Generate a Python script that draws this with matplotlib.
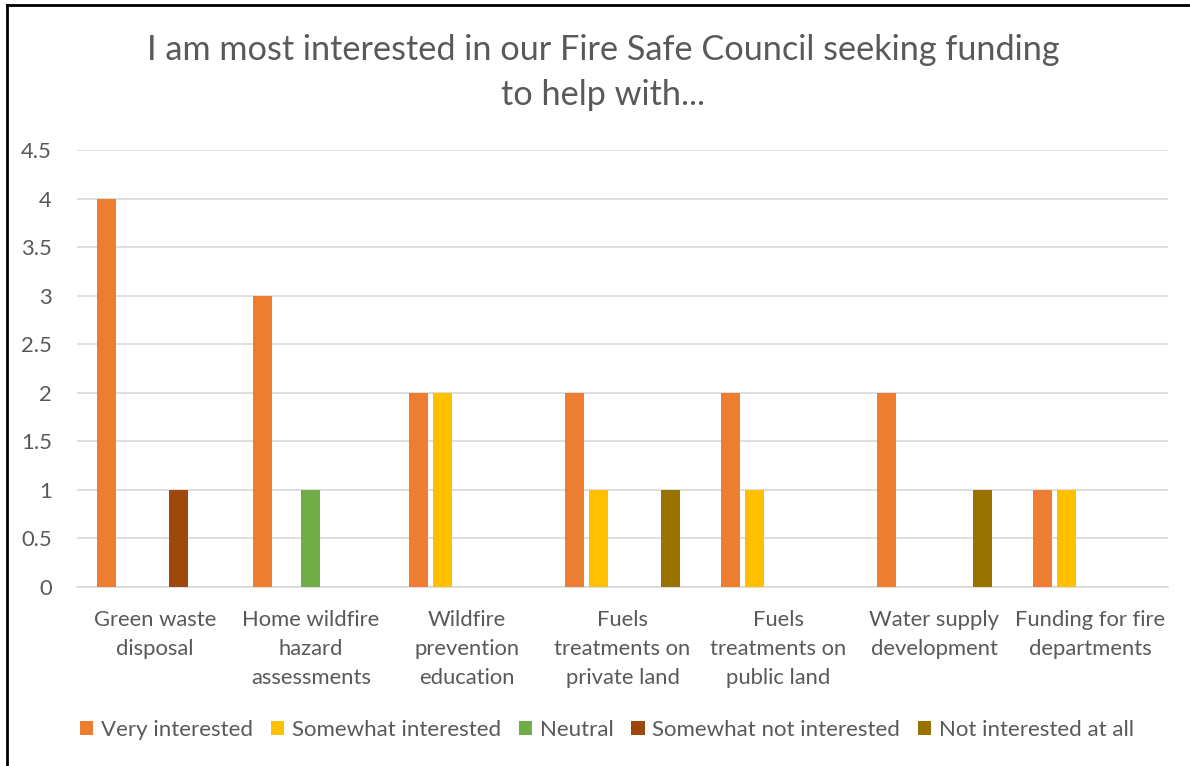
import numpy as np
import matplotlib
matplotlib.use("Agg")
import matplotlib.pyplot as plt
from matplotlib.lines import Line2D

categories = ["Green waste\ndisposal", "Home wildfire\nhazard\nassessments",
              "Wildfire\nprevention\neducation", "Fuels\ntreatments on\nprivate land",
              "Fuels\ntreatments on\npublic land", "Water supply\ndevelopment",
              "Funding for fire\ndepartments"]
series = ["Very interested", "Somewhat interested", "Neutral",
          "Somewhat not interested", "Not interested at all"]
very = [4, 3, 2, 2, 2, 2, 1]
somewhat = [0, 0, 2, 1, 1, 0, 1]
neutral = [0, 1, 0, 0, 0, 0, 0]
somewhat_not = [1, 0, 0, 0, 0, 0, 0]
not_at_all = [0, 0, 0, 1, 0, 1, 0]
colors = ["#ED7D31", "#FFC000", "#70AD47", "#9E480E", "#997300"]

plt.rcParams["font.family"] = ["Lato", "DejaVu Sans"]
gray = "#595959"

fig = plt.figure(figsize=(11.9, 7.66), dpi=100)
ax = fig.add_axes([77/1190, 1-587/766, (1168-77)/1190, (587-150)/766])

x = np.arange(len(categories))
step = 0.154
width = 0.122
for i, (vals, name, c) in enumerate(zip([very, somewhat, neutral, somewhat_not, not_at_all], series, colors)):
    ax.bar(x + (i-2)*step, vals, width, color=c, label=name, zorder=3)

ax.set_xlim(-0.5, len(categories)-0.5)
ax.set_ylim(0, 4.5)
ax.set_yticks(np.arange(0, 4.51, 0.5))
ax.set_yticklabels(["0", "0.5", "1", "1.5", "2", "2.5", "3", "3.5", "4", "4.5"])
ax.set_xticks(x)
ax.set_xticklabels(categories, linespacing=1.55)
ax.tick_params(axis="both", length=0, labelsize=15.8, colors=gray)
ax.tick_params(axis="x", pad=16.5)
ax.tick_params(axis="y", pad=18)
ax.grid(axis="y", color="#D9D9D9", linewidth=1.2, zorder=0)
for s in ["top", "right", "left"]:
    ax.spines[s].set_visible(False)
ax.spines["bottom"].set_color("#D9D9D9")
ax.spines["bottom"].set_linewidth(1.2)

fig.text(0.507, 1-50/766, "I am most interested in our Fire Safe Council seeking funding",
         ha="center", va="center", fontsize=24.7, color=gray)
fig.text(0.507, 1-95/766, "to help with...", ha="center", va="center", fontsize=24.7, color=gray)

fig.legend(loc="center", bbox_to_anchor=(0.51, 1-730/766), ncol=5, frameon=False,
           fontsize=16, labelcolor=gray, handlelength=0.6, handleheight=0.6,
           handletextpad=0.35, columnspacing=0.8)

fig.add_artist(Line2D([7/1190, 7/1190], [0, 1-5/766], color="black", linewidth=2))
fig.add_artist(Line2D([7/1190, 1], [1-5/766, 1-5/766], color="black", linewidth=2))

fig.savefig("out.png", dpi=100)
